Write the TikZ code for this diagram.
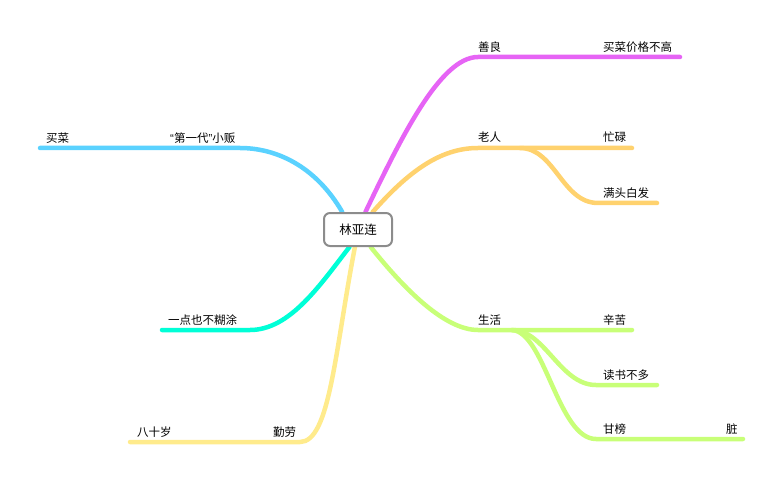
\documentclass[tikz,border=0pt]{standalone}
\usepackage{fontspec}
\setmainfont{Noto Sans CJK SC}
\newfontfamily\latinq{Liberation Sans}
\usetikzlibrary{backgrounds}
\definecolor{cMag}{RGB}{230,100,245}
\definecolor{cOra}{RGB}{255,210,110}
\definecolor{cLim}{RGB}{200,255,120}
\definecolor{cCya}{RGB}{90,210,255}
\definecolor{cTea}{RGB}{0,255,215}
\definecolor{cYel}{RGB}{255,235,140}
\definecolor{cBox}{RGB}{140,140,140}
\begin{document}
\begin{tikzpicture}[x=1pt,y=-1pt,
  lbl/.style={anchor=west,inner sep=0pt,font=\fontsize{11.5}{13}\selectfont},
  rootbox/.style={draw=cBox,line width=2pt,rounded corners=6pt,fill=white,
    minimum width=68pt,minimum height=33pt,inner sep=0pt,font=\fontsize{12.5}{14}\selectfont},
  br/.style={line width=4.5pt,line cap=round}]
\useasboundingbox (0,0) rectangle (783,486);
\node[rootbox] (root) at (358,229.5) {林亚连};
% coordinates
\coordinate (m0) at (478,57);  \coordinate (m1) at (680,57);
\coordinate (o0) at (478,148); \coordinate (o1) at (632,148);
\coordinate (o2) at (520,148); \coordinate (o3) at (598,203); \coordinate (o4) at (657,203);
\coordinate (g0) at (478,330); \coordinate (g1) at (632,330);
\coordinate (g2) at (512,330); \coordinate (g3) at (596,385); \coordinate (g4) at (657,385);
\coordinate (g5) at (596,439); \coordinate (g6) at (743,439);
\coordinate (c0) at (240,148); \coordinate (c1) at (40,148);
\coordinate (a0) at (250,330); \coordinate (a1) at (162,330);
\coordinate (y0) at (300,442); \coordinate (y1) at (130,442);
% labels
\node[lbl] (shanliang) at (478,47) {善良};
\node[lbl] (maicaijia) at (603,47) {买菜价格不高};
\node[lbl] (laoren) at (478,137) {老人};
\node[lbl] (manglu) at (603,137) {忙碌};
\node[lbl] (mantou) at (603,193) {满头白发};
\node[lbl] (shenghuo) at (478,320) {生活};
\node[lbl] (xinku) at (603,320) {辛苦};
\node[lbl] (dushu) at (603,375) {读书不多};
\node[lbl] (ganbang) at (603,429) {甘榜};
\node[lbl] (zang) at (726,429) {脏};
\node[lbl] (diyidai) at (170,138) {{\latinq “}第一代{\latinq ”}小贩};
\node[lbl] (maicai) at (46,138) {买菜};
\node[lbl] (yidian) at (168,320) {一点也不糊涂};
\node[lbl] (bashi) at (137,432) {八十岁};
\node[lbl] (qinlao) at (273,432) {勤劳};
\begin{scope}[on background layer]
\draw[br,cMag] (root.67) .. controls (400,140) and (440,57) .. (m0) -- (m1);
\draw[br,cOra] (root.50) .. controls (408,172) and (440,148) .. (o0) -- (o1);
\draw[br,cOra] (o2) .. controls (555,148) and (562,203) .. (o3) -- (o4);
\draw[br,cLim] (root.306) .. controls (405,290) and (445,330) .. (g0) -- (g1);
\draw[br,cLim] (g2) .. controls (545,330) and (560,385) .. (g3) -- (g4);
\draw[br,cLim] (g2) .. controls (545,332) and (558,439) .. (g5) -- (g6);
\draw[br,cCya] (root.132) .. controls (315,165) and (275,148) .. (c0) -- (c1);
\draw[br,cTea] (root.244) .. controls (320,285) and (290,330) .. (a0) -- (a1);
\draw[br,cYel] (root.260) .. controls (335,350) and (330,442) .. (y0) -- (y1);
\end{scope}
\end{tikzpicture}
\end{document}
